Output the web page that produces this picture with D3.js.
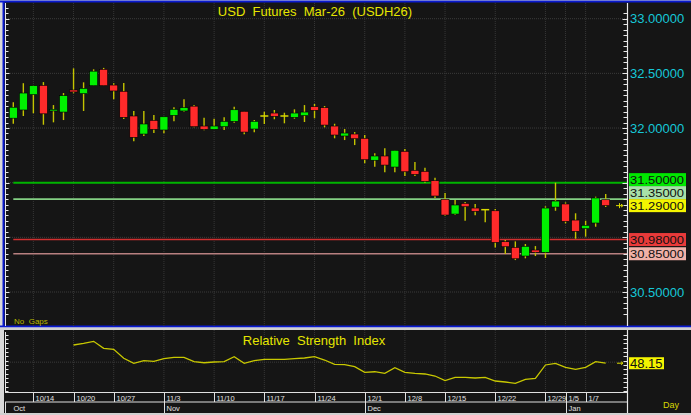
<!DOCTYPE html>
<html><head><meta charset="utf-8">
<script src="https://cdn.jsdelivr.net/npm/d3@7"></script>
<style>
body{margin:0;background:#d4d4d4;}
svg{display:block;font-family:"Liberation Sans",Arial,sans-serif;}
</style>
</head><body>
<svg id="c" width="691" height="415"></svg>
<script>
// ---------- DATA ----------
const dates = ["10/10","10/13","10/14","10/15","10/16","10/17","10/20","10/21","10/22","10/24",
  "10/27","10/28","10/29","10/30","10/31","11/3","11/4","11/5","11/6","11/7",
  "11/10","11/11","11/12","11/13","11/14","11/17","11/18","11/19","11/20","11/21",
  "11/24","11/25","11/26","11/27","11/28","12/1","12/2","12/3","12/4","12/8",
  "12/9","12/11","12/12","12/15","12/16","12/17","12/18","12/19","12/22","12/23",
  "12/24","12/25","12/26","12/29","12/30","1/5","1/6","1/7","1/8","1/9"];
const open  = [32.090,32.165,32.305,32.390,32.156,32.146,32.348,32.314,32.387,32.537,
  32.393,32.336,32.110,31.945,32.070,31.982,32.116,32.156,32.200,32.018,
  31.988,32.012,32.061,32.153,31.991,32.110,32.137,32.110,32.098,32.113,
  32.195,32.186,32.018,31.927,31.945,31.906,31.705,31.744,31.643,31.787,
  31.613,31.604,31.518,31.348,31.213,31.311,31.268,31.253,31.243,30.960,
  30.908,30.829,30.884,30.863,31.277,31.305,31.158,31.079,31.131,31.344];
const high  = [32.235,32.410,32.390,32.420,32.210,32.320,32.546,32.418,32.537,32.550,
  32.409,32.412,32.156,32.156,32.119,32.103,32.190,32.263,32.210,32.094,
  32.085,32.098,32.195,32.153,32.073,32.149,32.165,32.140,32.171,32.210,
  32.220,32.201,32.039,31.991,31.963,31.936,31.769,31.814,31.796,31.808,
  31.689,31.637,31.545,31.405,31.341,31.323,31.305,31.260,31.259,30.975,
  30.963,30.939,30.920,31.284,31.500,31.320,31.220,31.152,31.372,31.396];
const low   = [32.040,32.110,32.135,32.030,32.052,32.073,32.318,32.156,32.387,32.387,
  32.263,32.082,31.878,31.927,31.954,31.952,32.061,32.149,32.006,31.979,
  31.988,31.982,32.048,31.942,31.961,32.037,32.080,32.043,32.085,32.055,
  32.089,32.006,31.906,31.890,31.844,31.677,31.646,31.595,31.595,31.561,
  31.561,31.500,31.360,31.195,31.204,31.152,31.201,31.137,30.908,30.847,
  30.792,30.808,30.829,30.811,31.243,31.128,30.987,31.006,31.097,31.277];
const close = [32.190,32.320,32.387,32.130,32.171,32.296,32.330,32.363,32.520,32.387,
  32.339,32.098,31.915,32.037,31.988,32.103,32.171,32.186,32.012,31.988,
  32.018,32.061,32.167,31.963,32.061,32.110,32.107,32.110,32.137,32.146,
  32.162,32.027,31.936,31.954,31.902,31.710,31.744,31.661,31.796,31.600,
  31.576,31.512,31.378,31.204,31.296,31.280,31.238,31.253,30.954,30.914,
  30.804,30.918,30.863,31.268,31.332,31.146,31.055,31.110,31.360,31.290];
const rsi = [null,null,null,null,null,null,79.7,82.7,86.1,74.0,
  72.3,56.7,48.0,52.5,51.5,56.0,58.4,58.4,50.8,49.0,
  50.3,50.8,59.4,48.0,52.5,54.9,54.9,54.9,56.0,57.2,
  59.4,53.7,46.3,45.6,42.1,32.4,33.4,30.7,40.4,32.4,
  30.7,29.5,26.0,17.9,23.7,23.7,22.5,23.7,17.3,15.6,
  13.3,20.3,22.0,45.1,48.0,41.1,37.6,41.1,50.8,48.15];
const tickDates = ["10/14","10/20","10/27","11/3","11/10","11/17","11/24","12/1","12/8","12/15","12/22","12/29","1/5","1/7"];
const monthStarts = ["10/10","11/3","12/1","1/5"];
const monthNames  = ["Oct","Nov","Dec","Jan"];
const levelValues = [31.50, 31.35, 30.98, 30.85];
const levelColors = ["#00b400","#84d084","#d03030","#b88080"];
const levelBg     = ["#00e800","#a8e0a8","#e83a3a","#f0b0a8"];
const priceTicks  = [30.5, 31.0, 31.5, 32.0, 32.5, 33.0];
const title = "USD  Futures  Mar-26  (USDH26)";
const rsiTitle = "Relative  Strength  Index";

// ---------- LAYOUT ----------
const svg = d3.select("#c");
const W = 691, H = 415;
const bg = "#151515";
const axisX = 627.5;
const mainTop = 3, mainBot = 326;
const rsiTop = 330, rsiBot = 392.5;

svg.append("rect").attr("width",W).attr("height",H).attr("fill","#d8d8d8");
svg.append("rect").attr("x",4).attr("y",2).attr("width",W-4).attr("height",325).attr("fill",bg);
svg.append("line").attr("x1",0).attr("x2",W).attr("y1",1.5).attr("y2",1.5).attr("stroke","#0a1ad0").attr("stroke-width",2);
svg.append("line").attr("x1",3.5).attr("x2",3.5).attr("y1",1).attr("y2",327).attr("stroke","#0a1ad0").attr("stroke-width",2);
svg.append("line").attr("x1",0).attr("x2",W).attr("y1",326.5).attr("y2",326.5).attr("stroke","#0a1ad0").attr("stroke-width",2);
svg.append("rect").attr("x",4).attr("y",rsiTop).attr("width",W-4).attr("height",413-rsiTop).attr("fill",bg);

const x = d3.scalePoint().domain(dates).range([13.3, 605.7]);
const y = d3.scaleLinear().domain([30.5, 33.0]).range([292, 18.7]);
const yR = d3.scaleLinear().domain([0, 100]).range([391, 333.3]);

// gridlines
const gridG = svg.append("g");
priceTicks.forEach(v => {
  gridG.append("line").attr("x1",6).attr("x2",axisX).attr("y1",y(v)).attr("y2",y(v))
    .attr("stroke","#3a3a3a").attr("stroke-dasharray","1,1");
});
tickDates.forEach(d => {
  gridG.append("line").attr("x1",x(d)).attr("x2",x(d)).attr("y1",mainTop).attr("y2",mainBot)
    .attr("stroke","#363636").attr("stroke-dasharray","1,1");
  gridG.append("line").attr("x1",x(d)).attr("x2",x(d)).attr("y1",rsiTop).attr("y2",rsiBot)
    .attr("stroke","#363636").attr("stroke-dasharray","1,1");
});
gridG.append("line").attr("x1",6).attr("x2",axisX).attr("y1",yR(50)).attr("y2",yR(50))
  .attr("stroke","#3a3a3a").attr("stroke-dasharray","1,1");

// level lines
levelValues.forEach((v,i) => {
  svg.append("line").attr("x1",x(dates[0])).attr("x2",axisX).attr("y1",y(v)).attr("y2",y(v))
    .attr("stroke",levelColors[i]).attr("stroke-width", i===0?2:1.6);
});

// candles
const wickCol = "#c4c400";
const cg = svg.append("g");
dates.forEach((d,i) => {
  const cx = x(d);
  cg.append("line").attr("x1",cx).attr("x2",cx).attr("y1",y(high[i])).attr("y2",y(low[i]))
    .attr("stroke",wickCol).attr("stroke-width",1.4);
  const o = open[i], c = close[i];
  const top = y(Math.max(o,c)), bot = y(Math.min(o,c));
  const doji = Math.abs(o-c) < 0.004;
  let col = c > o ? "#00f000" : "#ff2a2a";
  if (doji) col = "#d8d800";
  const h = Math.max(bot-top, 1.5);
  cg.append("rect").attr("x",cx-4).attr("y",doji? top-0.75 : top).attr("width",8).attr("height",h)
    .attr("fill",col).attr("stroke", doji? "none":"#000").attr("stroke-width",0.6);
});

// left axis main
const la = svg.append("g");
la.append("line").attr("x1",5.5).attr("x2",5.5).attr("y1",mainTop).attr("y2",mainBot).attr("stroke","#e8e8e8");
d3.range(606,663).map(k=>k/20).forEach(v=>{
  const yy = Math.round(y(v))+0.5;
  if (yy<mainTop||yy>mainBot) return;
  const major = Math.abs(v*2-Math.round(v*2))<1e-6;
  la.append("line").attr("x1",5.5).attr("x2",major?9.5:8.5).attr("y1",yy).attr("y2",yy).attr("stroke","#e8e8e8");
});
// right axis main
const ra = svg.append("g");
ra.append("line").attr("x1",axisX).attr("x2",axisX).attr("y1",mainTop).attr("y2",mainBot).attr("stroke","#e8e8e8").attr("stroke-width",1.2);
d3.range(606,663).map(k=>k/20).forEach(v=>{
  const yy = Math.round(y(v))+0.5;
  if (yy<mainTop+6||yy>mainBot) return;
  const major = Math.abs(v*2-Math.round(v*2))<1e-6;
  ra.append("line").attr("x1",axisX).attr("x2",axisX-(major?5:4)).attr("y1",yy).attr("y2",yy).attr("stroke","#e8e8e8");
});

// level labels with collision handling
const lastClose = close[close.length-1];
const labels = levelValues.map((v,i)=>({v, bg:levelBg[i], yy:y(v)}));
labels.push({v:lastClose, bg:"#f4f400", yy:y(lastClose), fixed:true});
labels.sort((a,b)=>a.yy-b.yy);
const LH = 13;
const fi = labels.findIndex(l=>l.fixed);
for (let k=fi-1;k>=0;k--) labels[k].yy = Math.min(labels[k].yy, labels[k+1].yy-LH);
for (let k=fi+1;k<labels.length;k++) labels[k].yy = Math.max(labels[k].yy, labels[k-1].yy+LH);

priceTicks.forEach(v=>{
  const yy = y(v);
  if (labels.some(l=>Math.abs(l.yy-yy)<11)) return;
  svg.append("text").attr("x",630).attr("y",yy).attr("dy","0.36em").attr("fill","#16c8d8")
    .attr("font-size",13).text(d3.format(".5f")(v));
});
labels.forEach(l=>{
  svg.append("rect").attr("x",629).attr("y",l.yy-6.5).attr("width",57).attr("height",LH).attr("fill",l.bg);
  svg.append("text").attr("x",630).attr("y",l.yy).attr("dy","0.36em").attr("fill","#101010")
    .attr("font-size",11.2).attr("textLength",54).attr("lengthAdjust","spacingAndGlyphs")
    .text(d3.format(".5f")(l.v));
});
const ly = y(lastClose);
svg.append("path").attr("d",`M616,${ly}H623M619.5,${ly-2.5}V${ly+2.5}M621,${ly-1.5}L623,${ly}L621,${ly+1.5}`)
  .attr("stroke","#d8d800").attr("fill","none");

// titles
svg.append("text").attr("x",315).attr("y",15.5).attr("text-anchor","middle").attr("fill","#e6e600")
  .attr("font-size",13).style("white-space","pre").text(title);
svg.append("text").attr("x",14).attr("y",323.5).attr("fill","#b8b800").attr("font-size",8)
  .style("white-space","pre").text("No  Gaps");

// ---------- RSI ----------
svg.append("rect").attr("x",0).attr("y",327.5).attr("width",W).attr("height",2.5).attr("fill","#d0d0d0");
svg.append("line").attr("x1",5.5).attr("x2",5.5).attr("y1",rsiTop+2).attr("y2",rsiBot).attr("stroke","#e8e8e8");
d3.range(0,101,7.5).forEach(v=>{
  const yy = Math.round(yR(v))+0.5;
  svg.append("line").attr("x1",5.5).attr("x2",8.5).attr("y1",yy).attr("y2",yy).attr("stroke","#e8e8e8");
  svg.append("line").attr("x1",axisX).attr("x2",axisX-4).attr("y1",yy).attr("y2",yy).attr("stroke","#e8e8e8");
});
svg.append("line").attr("x1",axisX).attr("x2",axisX).attr("y1",rsiTop).attr("y2",413).attr("stroke","#e8e8e8").attr("stroke-width",1.2);
const line = d3.line().defined((d,i)=>rsi[i]!==null).x((d,i)=>x(dates[i])).y((d)=>yR(d));
svg.append("path").datum(rsi).attr("d",line).attr("fill","none").attr("stroke","#c8c800").attr("stroke-width",1.3);
svg.append("text").attr("x",314).attr("y",345).attr("text-anchor","middle").attr("fill","#e6e600")
  .attr("font-size",13).style("white-space","pre").text(rsiTitle);
const lastR = rsi[rsi.length-1];
const ry = yR(lastR);
svg.append("rect").attr("x",629).attr("y",ry-6).attr("width",35).attr("height",12).attr("fill","#f4f400");
svg.append("text").attr("x",630).attr("y",ry).attr("dy","0.36em").attr("fill","#101010").attr("font-size",13).text(d3.format(".2f")(lastR));
svg.append("path").attr("d",`M617,${ry}H623M621,${ry-1.5}L623,${ry}L621,${ry+1.5}`).attr("stroke","#d8d800").attr("fill","none");

// ---------- DATE AXIS ----------
const da = svg.append("g");
da.append("line").attr("x1",5).attr("x2",axisX).attr("y1",392.5).attr("y2",392.5).attr("stroke","#e0e0e0");
da.append("line").attr("x1",5).attr("x2",axisX).attr("y1",402).attr("y2",402).attr("stroke","#e0e0e0");
tickDates.forEach(d=>{
  const xx = Math.round(x(d))+0.5;
  da.append("line").attr("x1",xx).attr("x2",xx).attr("y1",392.5).attr("y2",402).attr("stroke","#e0e0e0");
  da.append("text").attr("x",xx+2).attr("y",400.5).attr("fill","#e0e0e0").attr("font-size",7.5).text(d);
});
monthStarts.forEach((d,i)=>{
  const xx = i===0 ? 5.5 : Math.round(x(d))+0.5;
  da.append("line").attr("x1",xx).attr("x2",xx).attr("y1",402).attr("y2",413).attr("stroke","#e0e0e0");
  da.append("text").attr("x",i===0?13.5:xx+2).attr("y",410.5).attr("fill","#e0e0e0").attr("font-size",7.5).text(monthNames[i]);
});
svg.append("text").attr("x",663).attr("y",407.5).attr("fill","#d8d800").attr("font-size",9).text("Day");
svg.append("rect").attr("x",0).attr("y",413).attr("width",W).attr("height",2).attr("fill","#d0d0d0");
</script>
</body></html>
